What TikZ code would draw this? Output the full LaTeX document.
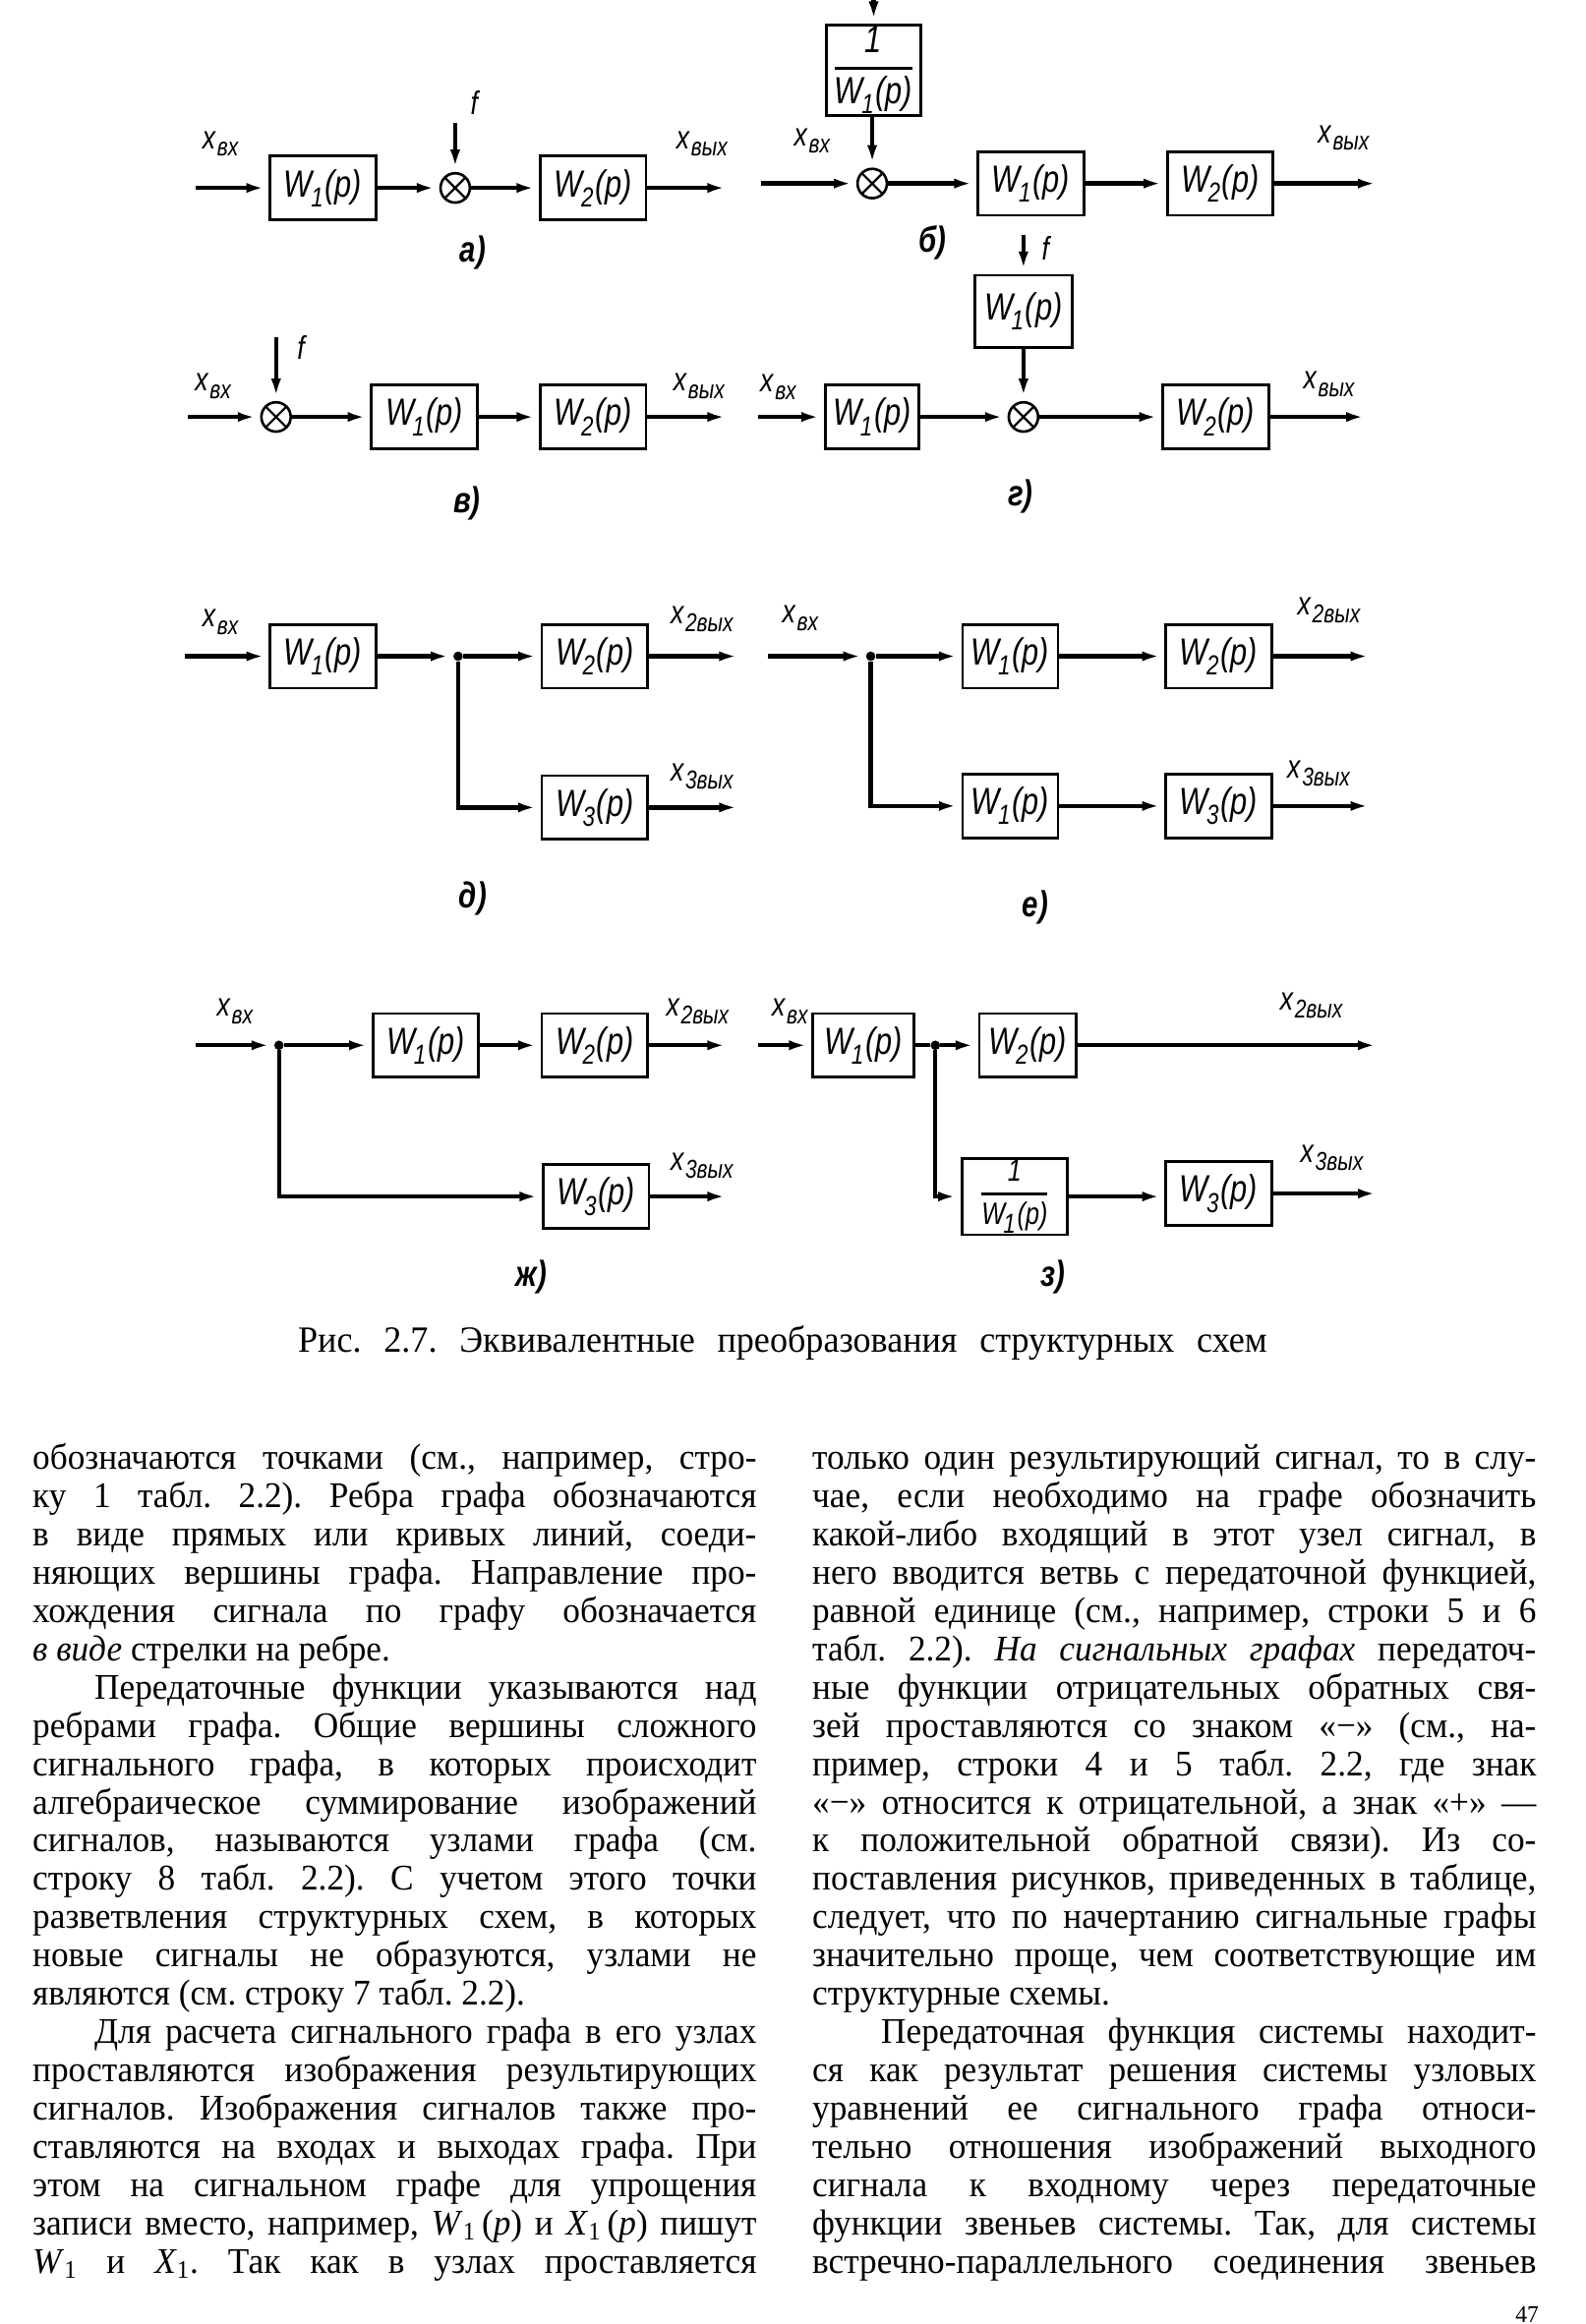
\documentclass[tikz,border=0pt]{standalone}
\usepackage{fontspec}
\setmainfont{Liberation Serif}[FakeStretch=0.96]
\newfontfamily\drawfont{Liberation Sans}[FakeStretch=0.8]
\usetikzlibrary{arrows.meta}

% labels of the diagrams
\newcommand\xsig[1]{x\kern1pt\raisebox{-0.45ex}{\fontsize{15}{15}\selectfont #1}}
\newcommand\Wp[1]{W\kern-1pt\raisebox{-0.5ex}{\fontsize{16}{16}\selectfont #1}\kern1pt(p)}
\newcommand\invW{$\displaystyle{\hbox{1}\above1.4pt\hbox{\Wp{1}}}$}
% lines of the page text
\newlength\colw
\setlength\colw{14.79cm}
\newcommand\txtline[1]{\hbox to\colw{\spaceskip=0.25em plus 1em minus 0.1em #1}}
\newcommand\txtlast[1]{\hbox to\colw{#1\hfil}}
\newcommand\txtind{\kern36pt}

\begin{document}
\frenchspacing
\begin{tikzpicture}
[x=0.03cm,y=-0.03cm,%
  block/.style={draw,line width=1.6pt,minimum width=2.16cm,minimum height=1.3cm,
    inner sep=1pt,font=\drawfont\itshape\fontsize{22}{24}\selectfont},%
  summer/.style={circle,draw,line width=1.5pt,minimum size=0.6cm,inner sep=0pt,
    path picture={\draw[line width=1.3pt]
      (path picture bounding box.north west) -- (path picture bounding box.south east)
      (path picture bounding box.north east) -- (path picture bounding box.south west);}},%
  dot/.style={circle,fill,inner sep=0pt,minimum size=5.5pt},%
  sig/.style={line width=2.5pt,-{Latex[length=13pt,width=5.5pt]}},%
  wire/.style={line width=2.5pt},%
  lbl/.style={inner sep=0pt,font=\drawfont\itshape\fontsize{19}{20}\selectfont},%
  tag/.style={inner sep=0pt,font=\drawfont\itshape\bfseries\fontsize{21}{23}\selectfont},%
  textcol/.style={inner sep=0pt,anchor=base west,font=\fontsize{21}{22.24}\selectfont}]
\fill[white] (0,0) rectangle (1080,1583);
\useasboundingbox (0,0) rectangle (1080,1583);

% a)
\coordinate (inA) at (133,128);
\node[block] (W1A) at (220,128) {\Wp{1}};
\node[summer] (sumA) at (310,128) {};
\coordinate (fA) at (310,84);
\node[block] (W2A) at (404,128) {\Wp{2}};
\coordinate (outA) at (497,128);
\draw[sig] (inA) -- (W1A);
\draw[sig] (W1A) -- (sumA);
\draw[sig] (fA) -- (sumA);
\draw[sig] (sumA) -- (W2A);
\draw[sig] (W2A) -- (outA);
\node[lbl] (xinA) at (150,98) {\xsig{вх}};
\node[lbl] (fAl) at (323,70) {f};
\node[lbl] (xoutA) at (478,98) {\xsig{вых}};
\node[tag] (tagA) at (322,172) {а)};

% b)
\coordinate (inB) at (518,125);
\node[summer] (sumB) at (594,125) {};
\node[block,minimum width=1.92cm,minimum height=1.8cm] (invB) at (595,48) {\invW};
\coordinate (topB) at (595,-5);
\node[block] (W1B) at (702,125) {\Wp{1}};
\node[block] (W2B) at (831,125) {\Wp{2}};
\coordinate (outB) at (940,125);
\draw[sig] (topB) -- (invB);
\draw[sig] (invB.south -| sumB) -- (sumB);
\draw[sig] (inB) -- (sumB);
\draw[sig] (sumB) -- (W1B);
\draw[sig] (W1B) -- (W2B);
\draw[sig] (W2B) -- (outB);
\node[lbl] (xinB) at (553,96) {\xsig{вх}};
\node[lbl] (xoutB) at (915,94) {\xsig{вых}};
\node[tag] (tagB) at (635,165) {б)};

% v)
\coordinate (inV) at (128,284);
\node[summer] (sumV) at (188,284) {};
\coordinate (fV) at (188,230);
\node[block] (W1V) at (289,284) {\Wp{1}};
\node[block] (W2V) at (404,284) {\Wp{2}};
\coordinate (outV) at (497,284);
\draw[sig] (inV) -- (sumV);
\draw[sig] (fV) -- (sumV);
\draw[sig] (sumV) -- (W1V);
\draw[sig] (W1V) -- (W2V);
\draw[sig] (W2V) -- (outV);
\node[lbl] (xinV) at (145,263) {\xsig{вх}};
\node[lbl] (fVl) at (205,237) {f};
\node[lbl] (xoutV) at (476,263) {\xsig{вых}};
\node[tag] (tagV) at (318,343) {в)};

% g)
\coordinate (inG) at (516,284);
\node[block,minimum width=1.92cm] (W1G) at (594,284) {\Wp{1}};
\node[summer] (sumG) at (697,284) {};
\node[block,minimum width=2.0cm,minimum height=1.47cm] (W1Gup) at (697,212) {\Wp{1}};
\coordinate (fG) at (697,160);
\node[block] (W2G) at (828,284) {\Wp{2}};
\coordinate (outG) at (932,284);
\draw[sig] (inG) -- (W1G);
\draw[sig] (W1G) -- (sumG);
\draw[sig] (fG) -- (W1Gup);
\draw[sig] (W1Gup) -- (sumG);
\draw[sig] (sumG) -- (W2G);
\draw[sig] (W2G) -- (outG);
\node[lbl] (xinG) at (530,264) {\xsig{вх}};
\node[lbl] (fGl) at (712,169) {f};
\node[lbl] (xoutG) at (905,262) {\xsig{вых}};
\node[tag] (tagG) at (695,338) {г)};

% d)
\coordinate (inD) at (126,447);
\node[block] (W1D) at (220,447) {\Wp{1}};
\node[dot] (jD) at (312,447) {};
\node[block] (W2D) at (405,447) {\Wp{2}};
\node[block] (W3D) at (405,550) {\Wp{3}};
\coordinate (outD) at (505,447);
\coordinate (out3D) at (505,550);
\draw[sig] (inD) -- (W1D);
\draw[sig] (W1D) -- (jD);
\draw[sig] (jD) -- (W2D);
\draw[sig] (jD) |- (W3D);
\draw[sig] (W2D) -- (outD);
\draw[sig] (W3D) -- (out3D);
\node[lbl] (xinD) at (150,424) {\xsig{вх}};
\node[lbl] (xoutD) at (478,422) {\xsig{2вых}};
\node[lbl] (xout3D) at (478,529) {\xsig{3вых}};
\node[tag] (tagD) at (322,612) {д)};

% e)
\coordinate (inE) at (523,447);
\node[dot] (jE) at (593,447) {};
\node[block,minimum width=1.95cm] (W1E) at (688,447) {\Wp{1}};
\node[block] (W2E) at (830,447) {\Wp{2}};
\node[block,minimum width=1.95cm] (W1Ed) at (688,549) {\Wp{1}};
\node[block] (W3E) at (830,549) {\Wp{3}};
\coordinate (outE) at (935,447);
\coordinate (out3E) at (935,549);
\draw[sig] (inE) -- (jE);
\draw[sig] (jE) -- (W1E);
\draw[sig] (jE) |- (W1Ed);
\draw[sig] (W1E) -- (W2E);
\draw[sig] (W1Ed) -- (W3E);
\draw[sig] (W2E) -- (outE);
\draw[sig] (W3E) -- (out3E);
\node[lbl] (xinE) at (545,421) {\xsig{вх}};
\node[lbl] (xoutE) at (905,416) {\xsig{2вых}};
\node[lbl] (xout3E) at (898,527) {\xsig{3вых}};
\node[tag] (tagE) at (705,618) {е)};

% zh)
\coordinate (inZh) at (133,712);
\node[dot] (jZh) at (190,712) {};
\node[block] (W1Zh) at (290,712) {\Wp{1}};
\node[block] (W2Zh) at (405,712) {\Wp{2}};
\node[block] (W3Zh) at (406,815) {\Wp{3}};
\coordinate (outZh) at (497,712);
\coordinate (out3Zh) at (497,815);
\draw[sig] (inZh) -- (jZh);
\draw[sig] (jZh) -- (W1Zh);
\draw[sig] (W1Zh) -- (W2Zh);
\draw[sig] (jZh) |- (W3Zh);
\draw[sig] (W2Zh) -- (outZh);
\draw[sig] (W3Zh) -- (out3Zh);
\node[lbl] (xinZh) at (160,689) {\xsig{вх}};
\node[lbl] (xoutZh) at (475,689) {\xsig{2вых}};
\node[lbl] (xout3Zh) at (478,794) {\xsig{3вых}};
\node[tag] (tagZh) at (362,870) {ж)};

% z)
\coordinate (inZ) at (516,712);
\node[block,minimum width=2.07cm] (W1Z) at (588,712) {\Wp{1}};
\node[dot] (jZ) at (637,712) {};
\node[block,minimum width=1.98cm] (W2Z) at (700,712) {\Wp{2}};
\node[block,font=\drawfont\itshape\fontsize{18}{19}\selectfont] (invZ) at (691,815) {\invW};
\node[block] (W3Z) at (830,813) {\Wp{3}};
\coordinate (outZ) at (940,712);
\coordinate (out3Z) at (940,813);
\draw[sig] (inZ) -- (W1Z);
\draw[wire] (W1Z) -- (jZ);
\draw[sig] (jZ) -- (W2Z);
\draw[sig] (jZ) |- (invZ);
\draw[sig] (invZ) -- (invZ -| W3Z.west);
\draw[sig] (W2Z) -- (outZ);
\draw[sig] (W3Z) -- (out3Z);
\node[lbl] (xinZ) at (538,689) {\xsig{вх}};
\node[lbl] (xoutZ) at (893,685) {\xsig{2вых}};
\node[lbl] (xout3Z) at (907,789) {\xsig{3вых}};
\node[tag] (tagZ) at (717,870) {з)};

% caption
\node[inner sep=0pt,font=\fontsize{21.5}{23}\selectfont] (cap) at (533,915)
  {\hbox to 19.8cm{\spaceskip=0.25em plus 1em Рис. 2.7. Эквивалентные преобразования структурных схем}};

% page text
\node[textcol] (colL) at (22,1001) {\vtop{\hsize=\colw\lineskiplimit=-50pt
\txtline{обозначаются точками (см., например, стро-}
\txtline{ку 1 табл. 2.2). Ребра графа обозначаются}
\txtline{в виде прямых или кривых линий, соеди-}
\txtline{няющих вершины графа. Направление про-}
\txtline{хождения сигнала по графу обозначается}
\txtlast{\textit{в виде} стрелки на ребре.}
\txtline{\txtind Передаточные функции указываются над}
\txtline{ребрами графа. Общие вершины сложного}
\txtline{сигнального графа, в которых происходит}
\txtline{алгебраическое суммирование изображений}
\txtline{сигналов, называются узлами графа (см.}
\txtline{строку 8 табл. 2.2). С учетом этого точки}
\txtline{разветвления структурных схем, в которых}
\txtline{новые сигналы не образуются, узлами не}
\txtlast{являются (см. строку 7 табл. 2.2).}
\txtline{\txtind Для расчета сигнального графа в его узлах}
\txtline{проставляются изображения результирующих}
\txtline{сигналов. Изображения сигналов также про-}
\txtline{ставляются на входах и выходах графа. При}
\txtline{этом на сигнальном графе для упрощения}
\txtline{записи вместо, например, \textit{W}\textsubscript{1}\,(\textit{p}) и \textit{X}\textsubscript{1}\,(\textit{p}) пишут}
\txtline{\textit{W}\textsubscript{1} и \textit{X}\textsubscript{1}. Так как в узлах проставляется}}};

\node[textcol] (colR) at (553,1001) {\vtop{\hsize=\colw\lineskiplimit=-50pt
\txtline{только один результирующий сигнал, то в слу-}
\txtline{чае, если необходимо на графе обозначить}
\txtline{какой-либо входящий в этот узел сигнал, в}
\txtline{него вводится ветвь с передаточной функцией,}
\txtline{равной единице (см., например, строки 5 и 6}
\txtline{табл. 2.2). \textit{На сигнальных графах} передаточ-}
\txtline{ные функции отрицательных обратных свя-}
\txtline{зей проставляются со знаком «−» (см., на-}
\txtline{пример, строки 4 и 5 табл. 2.2, где знак}
\txtline{«−» относится к отрицательной, а знак «+» —}
\txtline{к положительной обратной связи). Из со-}
\txtline{поставления рисунков, приведенных в таблице,}
\txtline{следует, что по начертанию сигнальные графы}
\txtline{значительно проще, чем соответствующие им}
\txtlast{структурные схемы.}
\txtline{\kern40pt Передаточная функция системы находит-}
\txtline{ся как результат решения системы узловых}
\txtline{уравнений ее сигнального графа относи-}
\txtline{тельно отношения изображений выходного}
\txtline{сигнала к входному через передаточные}
\txtline{функции звеньев системы. Так, для системы}
\txtline{встречно-параллельного соединения звеньев}}};

\node[anchor=south,inner sep=0pt,font=\fontsize{14}{16}\selectfont] (pgnum) at (1040,1582) {47};
\end{tikzpicture}
\end{document}
